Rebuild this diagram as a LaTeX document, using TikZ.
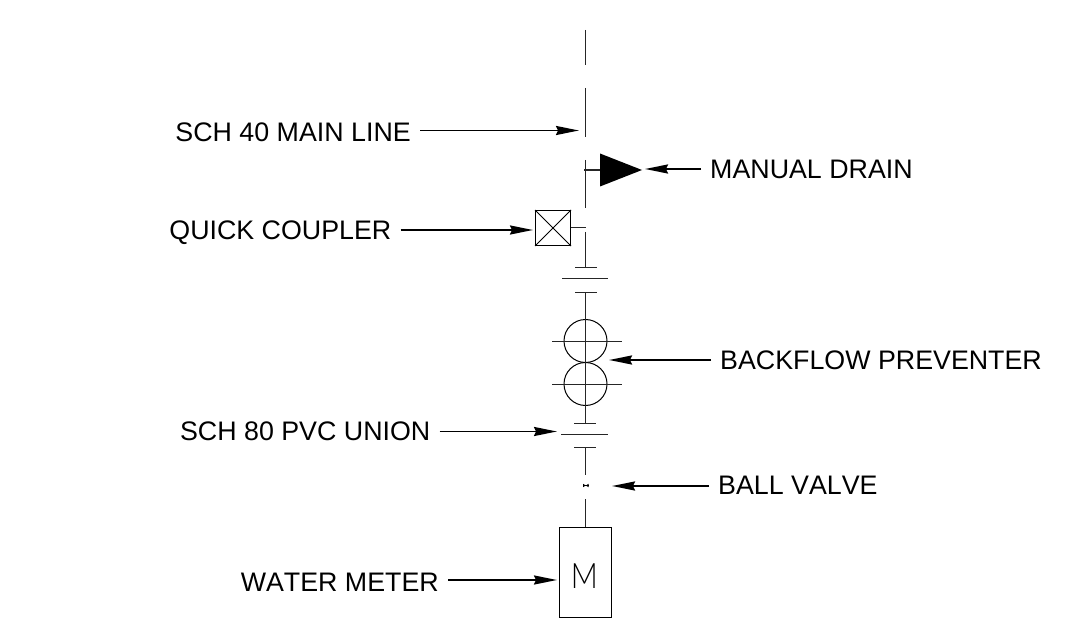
\documentclass[tikz,border=0pt]{standalone}
\usepackage{fontspec}
\setmainfont[Kerning=Off]{Liberation Sans}
\newfontfamily\meterfont{Lato Light}
\usetikzlibrary{arrows.meta,shapes.geometric}
\tikzset{
  label/.style={inner xsep=9pt,inner ysep=0pt,text height=19.4pt,text depth=0pt,font=\fontsize{26.8}{30}\selectfont},
  leader/.style={line width=1.9pt,-{Stealth[length=23pt,width=9pt,inset=2pt]}},
  pipe/.style={line width=1pt,black!85}
}
\begin{document}
\begin{tikzpicture}[x=1pt,y=-1pt]
      \useasboundingbox (0,0) rectangle (1078,636);

      % symbols
      \node (coupler) [draw,line width=1pt,inner sep=0pt,minimum width=35pt,minimum height=35pt] at (553,228) {};
      \node (drain) [fill=black,isosceles triangle,isosceles triangle stretches,inner sep=0pt,outer sep=0pt,minimum height=42pt,minimum width=33pt,anchor=lower side] at (600,170) {};
      \node (bfpa) [draw,shape=circle,line width=1pt,inner sep=0pt,minimum size=43pt] at (585.5,341) {};
      \node (bfpb) [draw,shape=circle,line width=1pt,inner sep=0pt,minimum size=43pt] at (585.5,384) {};
      \node (meter) [draw,line width=1pt,inner sep=0pt,minimum width=52pt,minimum height=90pt] at (585.5,572) {};
      \node (mtext) [xscale=.85,inner sep=0pt] at (584.4,576) {\meterfont\fontsize{35}{35}\selectfont M};
      \node (valve) [inner sep=0pt,minimum width=5pt,minimum height=3pt] at (585.8,485.5) {};

      % main line
      \draw [pipe] (585.5,30) -- (585.5,65);
      \draw [pipe] (585.5,88) -- (585.5,137);
      \draw [pipe] (585.5,160) -- (585.5,208);
      \draw [pipe] (585.5,232) -- (585.5,267);
      \draw [pipe] (585.5,292) -- (585.5,423);
      \draw [pipe] (585.5,447) -- (585.5,475);
      \draw [pipe] (585.5,499) -- (meter.north);
      \draw [line width=1.4pt,black!85] (584,170) -- (drain.lower side);
      \draw [pipe] (coupler.east) -- (586,228);

      % unions
      \draw [pipe] (575,267) -- (597,267);
      \draw [pipe] (562,278) -- (608,278);
      \draw [pipe] (575,292) -- (597,292);
      \draw [pipe] (574,423) -- (596,423);
      \draw [pipe] (561,434) -- (608,434);
      \draw [pipe] (574,447) -- (596,447);

      % backflow
      \draw [pipe] (552,341) -- (622,341);
      \draw [pipe] (552,384) -- (622,384);

      % coupler cross
      \draw [line width=.8pt] (coupler.north west) -- (coupler.south east);
      \draw [line width=.8pt] (coupler.north east) -- (coupler.south west);

      % valve
      \fill (valve.north west) -- (valve.south east) -- (valve.north east) -- (valve.south west) -- cycle;
      \draw [line width=1pt] (valve.west) -- (valve.east);

      % labels
      \node (mainline) [label,anchor=east] at (420,131.7) {SCH 40 MAIN LINE};
      \node (mdrain) [label,anchor=west] at (701,169) {MANUAL DRAIN};
      \node (qc) [label,anchor=east] at (400.5,230) {QUICK COUPLER};
      \node (bfp) [label,anchor=west] at (711,360) {BACKFLOW PREVENTER};
      \node (union) [label,anchor=east] at (439.5,431) {SCH 80 PVC UNION};
      \node (bv) [label,anchor=west] at (709,485) {BALL VALVE};
      \node (wm) [label,anchor=east] at (448,582) {WATER METER};

      \coordinate (tipmain) at (579,130.5);
      \coordinate (tipdrain) at (645,169);
      \coordinate (tipqc) at (533,230);
      \coordinate (tipbfp) at (609,360);
      \coordinate (tipunion) at (557,431.5);
      \coordinate (tipbv) at (612,486);
      \coordinate (tipwm) at (557,580);

      \draw [leader] (mainline.east |- tipmain) -- (tipmain);
      \draw [leader] (mdrain.west |- tipdrain) -- (tipdrain);
      \draw [leader] (qc.east |- tipqc) -- (tipqc);
      \draw [leader] (bfp.west |- tipbfp) -- (tipbfp);
      \draw [leader] (union.east |- tipunion) -- (tipunion);
      \draw [leader] (bv.west |- tipbv) -- (tipbv);
      \draw [leader] (wm.east |- tipwm) -- (tipwm);
    \end{tikzpicture}
\end{document}
